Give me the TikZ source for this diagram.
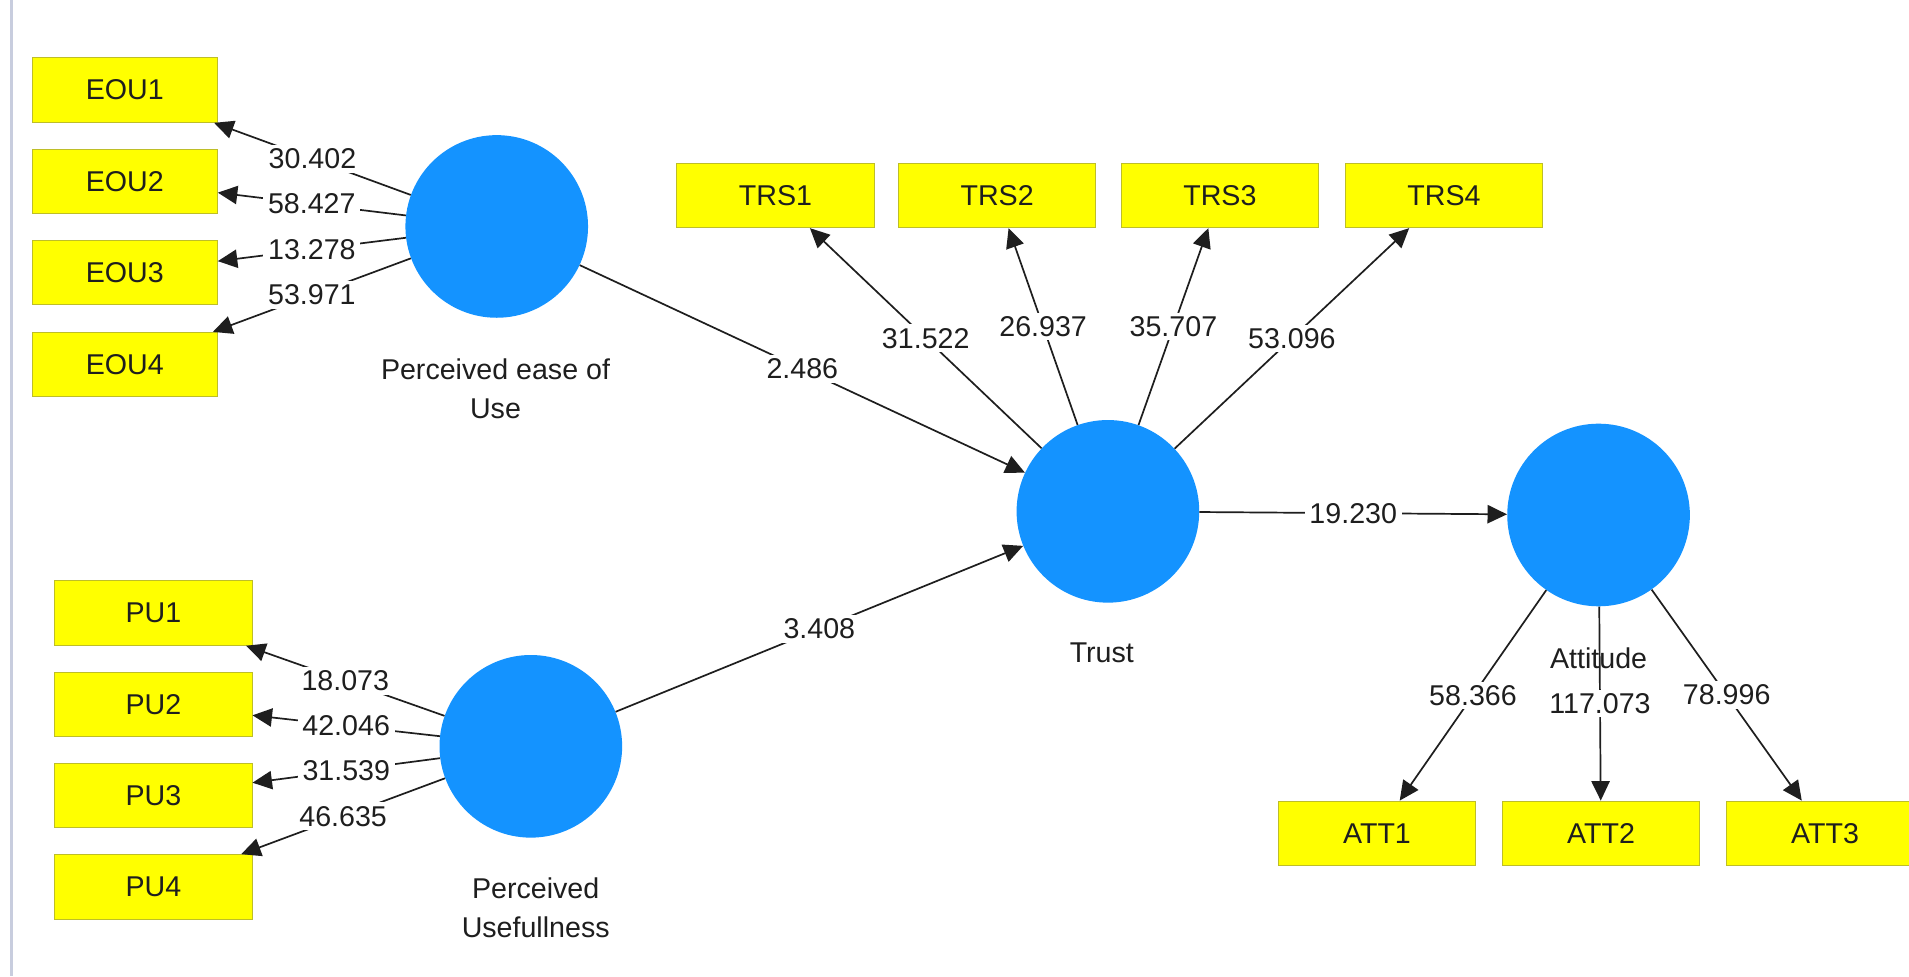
\documentclass[tikz,border=0pt]{standalone}
\usepackage{fontspec}
\setmainfont{Liberation Sans}
\usetikzlibrary{arrows.meta}
\definecolor{lvblue}{RGB}{20,147,255}
\definecolor{indyellow}{RGB}{255,255,0}
\definecolor{indborder}{RGB}{190,190,40}
\definecolor{sidebar}{RGB}{200,205,222}
\definecolor{ink}{RGB}{30,30,30}
\begin{document}
\begin{tikzpicture}[x=1pt,y=-1pt,
  font=\fontsize{23.5}{32}\selectfont,
  ind/.style={draw=indborder, fill=indyellow, line width=0.8pt, minimum width=162pt, minimum height=53pt, inner sep=0pt, text=ink},
  indn/.style={ind, minimum width=152pt},
  lat/.style={circle, fill=lvblue, minimum size=150pt, inner sep=0pt},
  latlabel/.style={align=center, text=ink, inner sep=0pt},
  conn/.style={draw=ink, line width=1.4pt, -{Triangle[length=16pt,width=15pt]}},
  val/.style={fill=white, inner xsep=4pt, inner ysep=3pt, text=ink}
]
\clip (0,0) rectangle (1568,802);
\fill[white] (0,0) rectangle (1568,802);
\fill[sidebar] (8,0) rectangle (11,802);

% latent variables
\node[lat] (peou) at (408,186) {};
\node[lat] (pu) at (436,613) {};
\node[lat] (trust) at (910,420) {};
\node[lat] (att) at (1313,423) {};

\node[latlabel] (peoulab) at (407,319) {Perceived ease of\\Use};
\node[latlabel] (pulab) at (440,746) {Perceived\\Usefullness};
\node[latlabel] (trustlab) at (905,536) {Trust};
\node[latlabel] (attlab) at (1313,541) {Attitude};

% indicators
\node[indn] (eou1) at (102.5,74) {EOU1};
\node[indn] (eou2) at (102.5,149) {EOU2};
\node[indn] (eou3) at (102.5,224) {EOU3};
\node[indn] (eou4) at (102.5,299.5) {EOU4};

\node[ind] (pu1) at (126,503.5) {PU1};
\node[ind] (pu2) at (126,578.5) {PU2};
\node[ind] (pu3) at (126,653.5) {PU3};
\node[ind] (pu4) at (126,728.5) {PU4};

\node[ind] (trs1) at (637,160.5) {TRS1};
\node[ind] (trs2) at (819,160.5) {TRS2};
\node[ind] (trs3) at (1002,160.5) {TRS3};
\node[ind] (trs4) at (1186,160.5) {TRS4};

\node[ind] (att1) at (1131,684.5) {ATT1};
\node[ind] (att2) at (1315,684.5) {ATT2};
\node[ind] (att3) at (1499,684.5) {ATT3};

% outer loadings
\draw[conn] (peou) -- node[val]{30.402} (eou1);
\draw[conn] (peou) -- node[val]{58.427} (eou2);
\draw[conn] (peou) -- node[val]{13.278} (eou3);
\draw[conn] (peou) -- node[val]{53.971} (eou4);

\draw[conn] (pu) -- node[val]{18.073} (pu1);
\draw[conn] (pu) -- node[val]{42.046} (pu2);
\draw[conn] (pu) -- node[val]{31.539} (pu3);
\draw[conn] (pu) -- node[val]{46.635} (pu4);

\draw[conn] (trust) -- node[val]{31.522} (trs1);
\draw[conn] (trust) -- node[val]{26.937} (trs2);
\draw[conn] (trust) -- node[val]{35.707} (trs3);
\draw[conn] (trust) -- node[val]{53.096} (trs4);

\draw[conn] (att) -- node[val]{58.366} (att1);
\draw[conn] (att) -- node[val]{117.073} (att2);
\draw[conn] (att) -- node[val]{78.996} (att3);

% structural paths
\draw[conn] (peou) -- node[val]{2.486} (trust);
\draw[conn] (pu) -- node[val]{3.408} (trust);
\draw[conn] (trust) -- node[val]{19.230} (att);
\end{tikzpicture}
\end{document}
